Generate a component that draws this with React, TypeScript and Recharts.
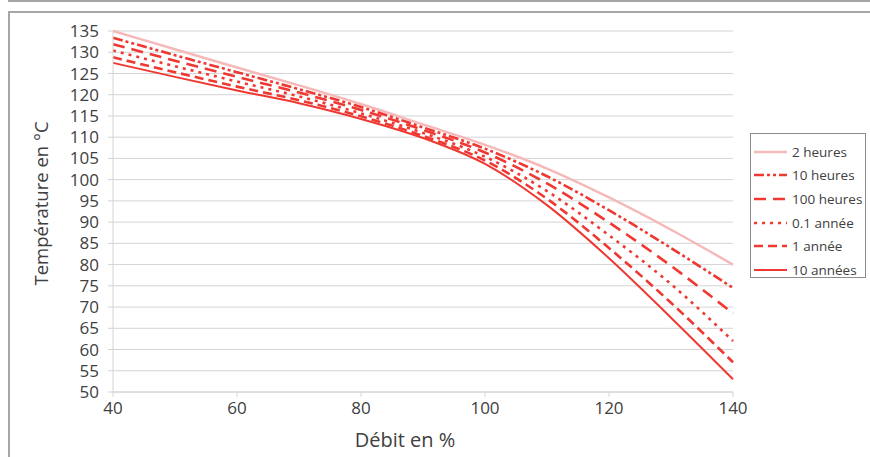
import { CartesianGrid, Line, LineChart, XAxis, YAxis } from "recharts";

const flow = [40, 50, 60, 70, 80, 90, 100, 110, 120, 130, 140];
const twoHours = [135, 130.7, 126.4, 122.2, 117.8, 113, 108.2, 102.6, 95.8, 88.2, 80];
const tenHours = [133.4, 129.3, 125.3, 121.3, 117.1, 112.3, 107.3, 100.8, 92.8, 83.9, 74.5];
const hundredHours = [131.9, 128, 124.2, 120.5, 116.4, 111.7, 106.4, 99.1, 89.9, 79.7, 68.5];
const tenthYear = [130.4, 126.7, 123.1, 119.6, 115.6, 111, 105.4, 97.3, 86.9, 75.4, 62];
const oneYear = [128.8, 125.3, 121.9, 118.7, 114.9, 110.3, 104.5, 95.5, 83.9, 71, 57];
const tenYears = [127.5, 124.2, 121, 118, 114.3, 109.8, 103.7, 94, 81.5, 67.5, 53];

const xTicks = [40, 60, 80, 100, 120, 140];
const yTicks = [50, 55, 60, 65, 70, 75, 80, 85, 90, 95, 100, 105, 110, 115, 120, 125, 130, 135];

const data = flow.map((x, i) => ({
  x,
  h2: twoHours[i],
  h10: tenHours[i],
  h100: hundredHours[i],
  a01: tenthYear[i],
  a1: oneYear[i],
  a10: tenYears[i],
}));

const RED = "#ef3832";
const series = [
  { key: "h2", name: "2 heures", color: "#f6b9b9", dash: undefined, width: 2.5 },
  { key: "h10", name: "10 heures", color: RED, dash: "10 3 3 3 3 3", width: 2.6 },
  { key: "h100", name: "100 heures", color: RED, dash: "12 7", width: 2.6 },
  { key: "a01", name: "0.1 année", color: RED, dash: "3 5", width: 2.6 },
  { key: "a1", name: "1 année", color: RED, dash: "9 5", width: 2.6 },
  { key: "a10", name: "10 années", color: RED, dash: undefined, width: 2 },
];

const FONT = "'Open Sans', sans-serif";
const TEXT = "#404040";

function LegendBox() {
  return (
    <div
      style={{
        position: "absolute",
        left: 750,
        top: 133,
        border: "1px solid #8c8c8c",
        width: 116,
        height: 145,
        boxSizing: "border-box",
        paddingTop: 6,
        fontFamily: FONT,
        fontSize: 13.5,
        color: TEXT,
        background: "#fff",
      }}
    >
      {series.map((s) => (
        <div key={s.key} style={{ display: "flex", alignItems: "center", height: 23.6 }}>
          <svg width={38} height={10} style={{ marginLeft: 3 }}>
            <line
              x1={0}
              y1={5}
              x2={33}
              y2={5}
              stroke={s.color}
              strokeWidth={s.width}
              strokeDasharray={s.dash}
            />
          </svg>
          <span>{s.name}</span>
        </div>
      ))}
    </div>
  );
}

export default function App() {
  return (
    <div style={{ position: "absolute", left: 0, top: 0, width: 870, height: 457, background: "#fff" }}>
      <div style={{ position: "absolute", left: 8, right: 0, top: 0, height: 2, background: "#a6a6a6" }} />
      <div
        style={{
          position: "absolute",
          left: 8,
          right: 0,
          top: 11,
          bottom: 0,
          borderTop: "2px solid #a6a6a6",
          borderLeft: "2px solid #a6a6a6",
        }}
      />
      <div style={{ position: "absolute", left: 0, top: 0 }}>
        <LineChart width={870} height={457} data={data} margin={{ top: 31, right: 137, bottom: 35, left: 58 }}>
          <CartesianGrid vertical={false} stroke="#d4d4d4" />
          <XAxis
            dataKey="x"
            type="number"
            domain={[40, 140]}
            ticks={xTicks}
            height={30}
            tickSize={5}
            tickMargin={5}
            stroke="#d4d4d4"
            tick={{ fill: TEXT, fontSize: 17, fontFamily: FONT }}
            label={{
              value: "Débit en %",
              position: "insideBottom",
              offset: -25,
              dx: -18,
              fill: TEXT,
              fontSize: 20,
              fontFamily: FONT,
            }}
          />
          <YAxis
            type="number"
            domain={[50, 135]}
            ticks={yTicks}
            width={55}
            tickSize={5}
            tickMargin={9}
            stroke="#d4d4d4"
            interval={0}
            tick={{ fill: TEXT, fontSize: 17, fontFamily: FONT }}
            label={{
              value: "Température en °C",
              angle: -90,
              position: "insideLeft",
              offset: -17,
              dy: -8,
              style: { textAnchor: "middle" },
              fill: TEXT,
              fontSize: 18.5,
              fontFamily: FONT,
            }}
          />
          {series.map((s) => (
            <Line
              key={s.key}
              type="monotone"
              dataKey={s.key}
              name={s.name}
              stroke={s.color}
              strokeWidth={s.width}
              strokeDasharray={s.dash}
              dot={false}
              activeDot={false}
              isAnimationActive={false}
            />
          ))}
        </LineChart>
      </div>
      <LegendBox />
    </div>
  );
}
